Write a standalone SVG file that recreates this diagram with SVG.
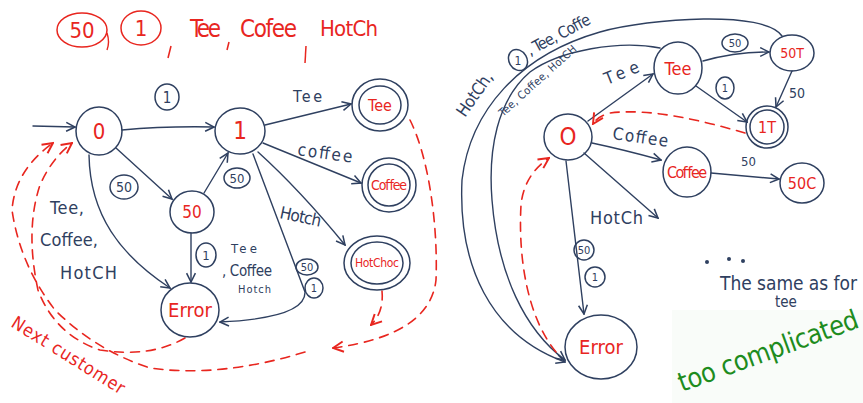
<svg xmlns="http://www.w3.org/2000/svg" width="863" height="403" viewBox="0 0 863 403">
  <style>
    .st { fill: none; stroke: #2f4060; stroke-width: 1.5; }
    .ln { fill: none; stroke: #2f4060; stroke-width: 1.4; stroke-linecap: round; }
    .rd { fill: none; stroke: #e8261f; stroke-width: 1.6; stroke-dasharray: 9 7; stroke-linecap: round; }
    .lab { fill: #2f4060; font-family: "Liberation Sans Narrow", "DejaVu Sans Condensed", "Liberation Sans", sans-serif; }
    .red { fill: #e8261f; font-family: "Liberation Sans Narrow", "DejaVu Sans Condensed", "Liberation Sans", sans-serif; }
    .mid { text-anchor: middle; }
  </style>
  <defs>
    <marker id="ah" viewBox="0 0 10 10" refX="9" refY="5" markerWidth="11" markerHeight="11" markerUnits="userSpaceOnUse" orient="auto">
      <path d="M1,1 L9,5 L1,9" fill="none" stroke="#2f4060" stroke-width="1.4"/>
    </marker>
    <marker id="ahr" viewBox="0 0 10 10" refX="9" refY="5" markerWidth="13" markerHeight="13" markerUnits="userSpaceOnUse" orient="auto">
      <path d="M1,1 L9,5 L1,9" fill="none" stroke="#e8261f" stroke-width="1.5"/>
    </marker>
  </defs>

  <rect width="863" height="403" fill="#ffffff"/>

  <!-- heading: input alphabet -->
  <g id="alphabet">
    <ellipse cx="82" cy="30" rx="25" ry="17" fill="none" stroke="#e8261f" stroke-width="1.5"/>
    <text class="red mid" x="82" y="38" font-size="22">50</text>
    <path d="M107,33 Q110,42 107,50" fill="none" stroke="#e8261f" stroke-width="1.4"/>
    <ellipse cx="141" cy="28" rx="20" ry="17" fill="none" stroke="#e8261f" stroke-width="1.5"/>
    <text class="red mid" x="141" y="36" font-size="22">1</text>
    <path d="M171,46 L168,58" stroke="#e8261f" stroke-width="1.5"/>
    <text class="red" x="190" y="37" font-size="24" textLength="31">Tee</text>
    <path d="M229,42 L227,50" stroke="#e8261f" stroke-width="1.5"/>
    <text class="red" x="240" y="37" font-size="24" textLength="57">Cofee</text>
    <path d="M306,46 L305,63" stroke="#e8261f" stroke-width="1.5"/>
    <text class="red" x="320" y="36" font-size="22" textLength="58">HotCh</text>
  </g>

  <!-- connectors -->
  <g id="connectors">
    <!-- left machine -->
    <path class="ln" d="M33,126 L75,127" marker-end="url(#ah)"/>
    <path class="ln" d="M122,130 Q165,126 214,127" marker-end="url(#ah)"/>
    <path class="ln" d="M116,148 L172,199" marker-end="url(#ah)"/>
    <path class="ln" d="M204,193 L228,153" marker-end="url(#ah)"/>
    <path class="ln" d="M265,125 L351,104" marker-end="url(#ah)"/>
    <path class="ln" d="M263,143 L361,183" marker-end="url(#ah)"/>
    <path class="ln" d="M258,152 Q300,190 345,245" marker-end="url(#ah)"/>
    <path class="ln" d="M191,233 L191,282" marker-end="url(#ah)"/>
    <path class="ln" d="M89,155 C90,215 120,255 170,288" marker-end="url(#ah)"/>
    <path class="ln" d="M253,154 L305,292 Q306,318 220,322" marker-end="url(#ah)"/>

    <!-- left machine: back to start -->
    <path class="rd" d="M410,120 C430,160 438,230 436,280 Q430,335 333,348" marker-end="url(#ahr)"/>
    <path class="rd" d="M382,291 Q384,312 371,325" marker-end="url(#ahr)"/>
    <path class="rd" d="M305,352 Q220,378 150,368 Q95,350 55,310 Q20,265 12,210 Q15,170 53,143" marker-end="url(#ahr)"/>
    <path class="rd" d="M185,338 Q150,358 100,350 Q55,335 38,290 Q25,230 40,185 Q52,158 72,143" marker-end="url(#ahr)"/>

    <!-- right machine -->
    <path class="ln" d="M588,121 L653,74" marker-end="url(#ah)"/>
    <path class="ln" d="M703,61 Q735,52 769,52" marker-end="url(#ah)"/>
    <path class="ln" d="M696,86 L747,122" marker-end="url(#ah)"/>
    <path class="ln" d="M792,71 L776,107" marker-end="url(#ah)"/>
    <path class="ln" d="M592,143 Q625,150 661,160" marker-end="url(#ah)"/>
    <path class="ln" d="M711,173 L779,179" marker-end="url(#ah)"/>
    <path class="ln" d="M584,153 L658,218" marker-end="url(#ah)"/>
    <path class="ln" d="M566,161 L584,314" marker-end="url(#ah)"/>
    <path class="ln" d="M782,36 C765,10 650,18 600,32 C520,55 470,110 462,180 C458,265 490,335 565,362" marker-end="url(#ah)"/>
    <path class="ln" d="M660,48 C620,40 560,50 530,72 C497,100 488,150 492,200 C498,275 525,330 565,360" marker-end="url(#ah)"/>

    <!-- right machine: back to start -->
    <path class="rd" d="M745,133 C700,120 650,108 610,113 Q598,116 593,124" marker-end="url(#ahr)"/>
    <path class="rd" d="M556,352 C528,318 518,260 521,205 Q524,175 549,158" marker-end="url(#ahr)"/>
  </g>

  <!-- edge labels -->
  <g id="labels">
    <ellipse class="st" cx="167" cy="97" rx="12" ry="13"/>
    <text class="lab mid" x="167" y="103" font-size="15">1</text>
    <ellipse class="st" cx="124" cy="187" rx="14" ry="12"/>
    <text class="lab mid" x="124" y="192" font-size="14">50</text>
    <ellipse class="st" cx="237" cy="178" rx="13" ry="10"/>
    <text class="lab mid" x="237" y="183" font-size="13">50</text>
    <text class="lab" x="293" y="102" font-size="16" textLength="29">Tee</text>
    <text class="lab" x="297" y="155" font-size="17" textLength="55" transform="rotate(8 297 155)">coffee</text>
    <text class="lab" x="279" y="218" font-size="17" textLength="42" transform="rotate(12 279 218)">Hotch</text>
    <text class="lab" x="50" y="214" font-size="18" textLength="34">Tee,</text>
    <text class="lab" x="40" y="246" font-size="18" textLength="58">Coffee,</text>
    <text class="lab" x="60" y="279" font-size="18" textLength="57">HotCH</text>
    <ellipse class="st" cx="206" cy="255" rx="10" ry="12"/>
    <text class="lab mid" x="206" y="260" font-size="13">1</text>
    <text class="lab" x="231" y="253" font-size="13" textLength="26">Tee</text>
    <text class="lab" x="222" y="276" font-size="15" textLength="50">, Coffee</text>
    <text class="lab" x="238" y="293" font-size="11" textLength="33">Hotch</text>
    <ellipse class="st" cx="307" cy="267" rx="11" ry="8"/>
    <text class="lab mid" x="307" y="271" font-size="11">50</text>
    <ellipse class="st" cx="314" cy="288" rx="9" ry="10"/>
    <text class="lab mid" x="314" y="292" font-size="11">1</text>

    <text class="red" x="10" y="326" font-size="18" textLength="130" transform="rotate(32 10 326)">Next customer</text>

    <text class="lab" x="607" y="85" font-size="17" textLength="36" transform="rotate(-22 607 85)">Tee</text>
    <ellipse class="st" cx="735" cy="43" rx="13" ry="9"/>
    <text class="lab mid" x="735" y="47" font-size="11">50</text>
    <ellipse class="st" cx="725" cy="88" rx="9" ry="11"/>
    <text class="lab mid" x="725" y="92" font-size="11">1</text>
    <text class="lab" x="789" y="98" font-size="14">50</text>
    <text class="lab" x="612" y="139" font-size="17" textLength="56" transform="rotate(8 612 139)">Coffee</text>
    <text class="lab" x="741" y="166" font-size="13">50</text>
    <text class="lab" x="590" y="224" font-size="18" textLength="53">HotCh</text>
    <ellipse class="st" cx="584" cy="250" rx="10" ry="10"/>
    <text class="lab mid" x="584" y="254" font-size="11">50</text>
    <ellipse class="st" cx="595" cy="277" rx="10" ry="10"/>
    <text class="lab mid" x="595" y="281" font-size="11">1</text>
    <text class="lab" x="465" y="118" font-size="17" textLength="50" transform="rotate(-55 465 118)">HotCh,</text>
    <ellipse class="st" cx="518" cy="60" rx="9" ry="11" transform="rotate(-30 518 60)"/>
    <text class="lab mid" x="518" y="65" font-size="12">1</text>
    <text class="lab" x="530" y="56" font-size="16" textLength="70" transform="rotate(-28 530 56)">, Tee, Coffe</text>
    <text class="lab" x="503" y="117" font-size="11" textLength="100" transform="rotate(-42 503 117)">Tee, Coffee, HotCH</text>
  </g>

  <!-- left machine states -->
  <g id="s0">
    <ellipse class="st" cx="99" cy="131" rx="23" ry="24"/>
    <text class="red mid" x="99" y="139" font-size="22">0</text>
  </g>
  <g id="s1">
    <ellipse class="st" cx="240" cy="131" rx="25" ry="23"/>
    <text class="red mid" x="240" y="139" font-size="24">1</text>
  </g>
  <g id="s50">
    <ellipse class="st" cx="192" cy="212" rx="22" ry="21"/>
    <text class="red mid" x="192" y="218" font-size="17">50</text>
  </g>
  <g id="sTee">
    <ellipse class="st" cx="380" cy="105" rx="28" ry="26"/>
    <ellipse class="st" cx="380" cy="105" rx="21" ry="19"/>
    <text class="red mid" x="380" y="111" font-size="16">Tee</text>
  </g>
  <g id="sCoffee">
    <ellipse class="st" cx="389" cy="185" rx="27" ry="27"/>
    <ellipse class="st" cx="389" cy="185" rx="21" ry="21"/>
    <text class="red mid" x="389" y="190" font-size="14" textLength="36">Coffee</text>
  </g>
  <g id="sHotChoc">
    <ellipse class="st" cx="377" cy="263" rx="33" ry="27"/>
    <ellipse class="st" cx="377" cy="263" rx="26" ry="21"/>
    <text class="red mid" x="377" y="267" font-size="12" textLength="44">HotChoc</text>
  </g>
  <g id="sError">
    <ellipse class="st" cx="190" cy="310" rx="29" ry="27"/>
    <text class="red mid" x="190" y="317" font-size="20">Error</text>
  </g>

  <!-- right machine states -->
  <g id="r0">
    <ellipse class="st" cx="568" cy="137" rx="24" ry="23"/>
    <text class="red mid" x="568" y="145" font-size="24">O</text>
  </g>
  <g id="rTee">
    <ellipse class="st" cx="678" cy="68" rx="24" ry="26"/>
    <text class="red mid" x="678" y="75" font-size="18">Tee</text>
  </g>
  <g id="r50T">
    <ellipse class="st" cx="792" cy="53" rx="22" ry="18"/>
    <text class="red mid" x="792" y="58" font-size="14">50T</text>
  </g>
  <g id="r1T">
    <ellipse class="st" cx="767" cy="127" rx="21" ry="21"/>
    <ellipse class="st" cx="767" cy="127" rx="17" ry="17"/>
    <text class="red mid" x="767" y="133" font-size="16">1T</text>
  </g>
  <g id="rCoffee">
    <ellipse class="st" cx="687" cy="172" rx="24" ry="25"/>
    <text class="red mid" x="687" y="178" font-size="16" textLength="40">Coffee</text>
  </g>
  <g id="r50C">
    <ellipse class="st" cx="802" cy="183" rx="22" ry="20"/>
    <text class="red mid" x="802" y="189" font-size="16">50C</text>
  </g>
  <g id="rError">
    <ellipse class="st" cx="601" cy="347" rx="36" ry="32"/>
    <text class="red mid" x="601" y="354" font-size="20">Error</text>
  </g>

  <!-- note -->
  <g id="note">
    <circle cx="707" cy="262" r="2" fill="#2f4060"/>
    <circle cx="729" cy="259" r="2" fill="#2f4060"/>
    <circle cx="743" cy="261" r="2" fill="#2f4060"/>
    <text class="lab" x="720" y="290" font-size="19" textLength="137">The same as for</text>
    <text class="lab" x="775" y="307" font-size="15">tee</text>
  </g>

  <g id="verdict">
    <rect x="672" y="310" width="191" height="93" fill="#f9fcf9"/>
    <text x="682" y="392" font-size="27" fill="#1e8c1e" textLength="190" transform="rotate(-20 682 392)" font-family="'Liberation Sans Narrow', 'DejaVu Sans Condensed', 'Liberation Sans', sans-serif">too complicated</text>
  </g>
</svg>
